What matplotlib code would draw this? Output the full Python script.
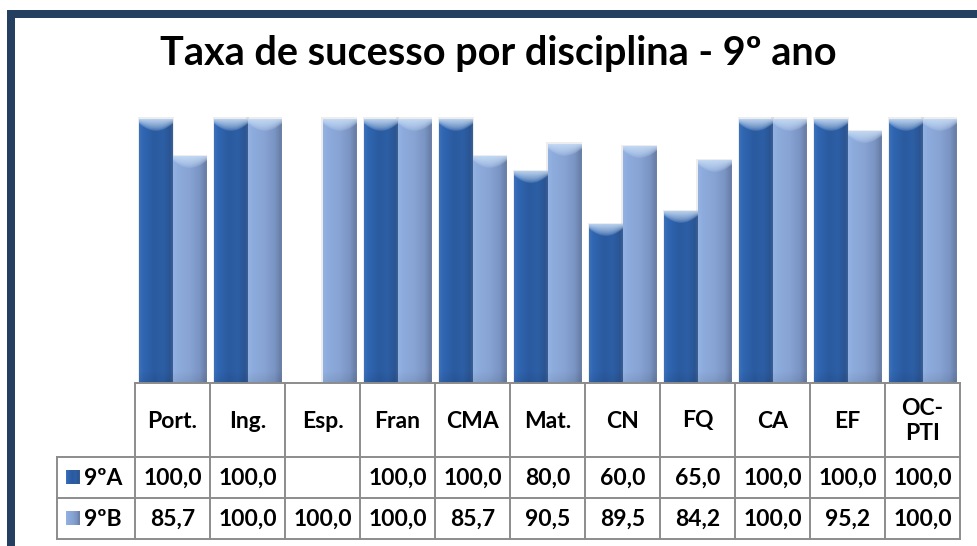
import numpy as np
import matplotlib
matplotlib.use("Agg")
import matplotlib.pyplot as plt
from matplotlib.patches import Rectangle
from matplotlib.colors import to_rgb

# ---------------- data ----------------
categories = ["Port.", "Ing.", "Esp.", "Fran", "CMA", "Mat.", "CN", "FQ", "CA", "EF", "OC-\nPTI"]
series_names = ["9ºA", "9ºB"]
values_9A = [100.0, 100.0, None, 100.0, 100.0, 80.0, 60.0, 65.0, 100.0, 100.0, 100.0]
values_9B = [85.7, 100.0, 100.0, 100.0, 85.7, 90.5, 89.5, 84.2, 100.0, 95.2, 100.0]
title = "Taxa de sucesso por disciplina - 9º ano"

# ---------------- style ----------------
W, H = 977, 546
FONT = "Lato"
frame_color = "#243F60"
grid_color = "#8C8C8C"
profile_A = [(0.0, "#3C70BA"), (0.12, "#3066B2"), (0.45, "#2A5A9F"), (0.7, "#2D5FA6"),
             (0.92, "#2A5593"), (1.0, "#3B5F92")]
profile_B = [(0.0, "#93B2E2"), (0.15, "#8DABDC"), (0.5, "#87A3D3"), (0.8, "#7A94C3"),
             (0.95, "#6A80AA"), (1.0, "#6E82A8")]
highlight = np.array(to_rgb("#C9DEF6"))

fig = plt.figure(figsize=(W / 100, H / 100), dpi=100)
fig.patch.set_facecolor("white")

# overlay axes in pixel coordinates (frame + title)
ov = fig.add_axes([0, 0, 1, 1], zorder=0)
ov.set_xlim(0, W)
ov.set_ylim(H, 0)
ov.axis("off")

ov.add_patch(Rectangle((7, 10), 8, H - 10, color=frame_color, lw=0))
ov.add_patch(Rectangle((7, 10), W - 7, 8, color=frame_color, lw=0))

ov.text(498, 53, title, ha="center", va="center", fontsize=28.5, fontweight="bold",
        family=FONT, color="black")

# ---------------- bars ----------------
plot_left, plot_right = 135, 960
plot_top, plot_bottom = 119, 383
ax = fig.add_axes([plot_left / W, 1 - plot_bottom / H,
                   (plot_right - plot_left) / W, (plot_bottom - plot_top) / H], zorder=1)
ax.patch.set_visible(False)
n = len(categories)
ax.set_xlim(-0.5, n - 0.5)
ax.set_ylim(0, 100)
ax.axis("off")

x = np.arange(n)
bw = 0.45
offs = [-0.225, 0.225]
px_per_unit = (plot_bottom - plot_top) / 100.0


def profile_colors(profile, ncols):
    u = np.linspace(0, 1, ncols)
    pos = [p for p, _ in profile]
    cols = np.array([to_rgb(c) for _, c in profile])
    return np.stack([np.interp(u, pos, cols[:, k]) for k in range(3)], axis=1)


def bar_image(profile, hpx):
    ncols = 60
    nrows = max(int(round(hpx)), 2)
    base = profile_colors(profile, ncols)
    img = np.repeat(base[None, :, :], nrows, axis=0)
    u = np.linspace(0, 1, ncols)
    r = np.arange(nrows)[:, None] + 0.5
    depth = 12 * (0.4 + 0.6 * (1 - (2 * u - 1) ** 2))[None, :]
    t = np.clip(1 - r / depth, 0, 1) ** 0.6 * 0.9
    img = img * (1 - t[:, :, None]) + highlight * t[:, :, None]
    shade = np.clip((r - (nrows - 12)) / 12, 0, 1) * 0.08
    img = img * (1 - shade[:, :, None])
    return np.clip(img, 0, 1)


for vals, off, prof in [(values_9A, offs[0], profile_A), (values_9B, offs[1], profile_B)]:
    heights = [v if v is not None else 0 for v in vals]
    bars = ax.bar(x + off, heights, width=bw, color="none", edgecolor="none")
    for b, v in zip(bars, vals):
        if v is None:
            continue
        x0 = b.get_x()
        w = b.get_width()
        h = b.get_height()
        ax.add_patch(Rectangle((x0 - 0.015, 0), w + 0.03, h + 0.6, color="#000000",
                               alpha=0.07, lw=0, clip_on=False))
        im = ax.imshow(bar_image(prof, h * px_per_unit), extent=(x0, x0 + w, 0, h),
                       aspect="auto", interpolation="bilinear", origin="upper",
                       clip_on=False, zorder=3)
        im.set_clip_path(b)
ax.set_xlim(-0.5, n - 0.5)
ax.set_ylim(0, 100)

# ---------------- data table ----------------
col_w = (plot_right - plot_left) / n
col_edges = [plot_left + col_w * i for i in range(n + 1)]
row_edges = [383, 457, 498, 539]
legend_left = 57
lw = 1.4

tbl = fig.add_axes([0, 0, 1, 1], zorder=2)
tbl.set_xlim(0, W)
tbl.set_ylim(H, 0)
tbl.axis("off")
tbl.patch.set_visible(False)

tbl.plot([plot_left, plot_right], [row_edges[0]] * 2, color=grid_color, lw=lw)
for yy in row_edges[1:]:
    tbl.plot([legend_left, plot_right], [yy] * 2, color=grid_color, lw=lw)
for xx in col_edges:
    tbl.plot([xx, xx], [row_edges[0], row_edges[-1]], color=grid_color, lw=lw)
tbl.plot([legend_left, legend_left], [row_edges[1], row_edges[-1]], color=grid_color, lw=lw)

fs = 16.5
for i, cat in enumerate(categories):
    cx = (col_edges[i] + col_edges[i + 1]) / 2
    tbl.text(cx, (row_edges[0] + row_edges[1]) / 2 + 1, cat, ha="center", va="center",
             fontsize=fs, fontweight="bold", family=FONT, linespacing=1.2)
    for r, vals in enumerate([values_9A, values_9B]):
        v = vals[i]
        if v is None:
            continue
        s = f"{v:.1f}".replace(".", ",")
        tbl.text(cx, (row_edges[r + 1] + row_edges[r + 2]) / 2 + 1, s, ha="center",
                 va="center", fontsize=fs, fontweight="bold", family=FONT)

for r, (name, prof) in enumerate(zip(series_names, [profile_A, profile_B])):
    cy = (row_edges[r + 1] + row_edges[r + 2]) / 2
    key = profile_colors(prof, 20)
    img = np.repeat(key[None, :, :], 14, axis=0)
    tbl.imshow(img, extent=(66, 80, cy + 7, cy - 7), aspect="auto", interpolation="bilinear")
    tbl.text(84, cy + 1, name, ha="left", va="center", fontsize=fs, fontweight="bold",
             family=FONT)
tbl.set_xlim(0, W)
tbl.set_ylim(H, 0)

fig.savefig("out.png", dpi=100)
